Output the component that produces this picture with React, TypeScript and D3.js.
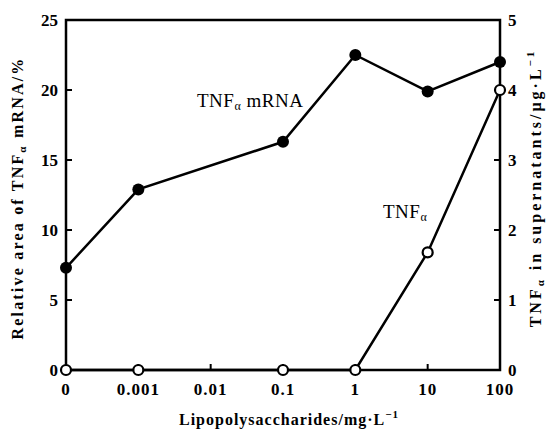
import { useEffect, useRef } from 'react'
import * as d3 from 'd3'

const doses = ['0', '0.001', '0.01', '0.1', '1', '10', '100']
const mrnaDoses = ['0', '0.001', '0.1', '1', '10', '100']
const mrnaValues = [7.3, 12.9, 16.3, 22.5, 19.9, 22.0]
const proteinDoses = ['0', '0.001', '0.1', '1', '10', '100']
const proteinValues = [0, 0, 0, 0, 1.68, 4.0]
const leftTicks = [0, 5, 10, 15, 20, 25]
const rightTicks = [0, 1, 2, 3, 4, 5]
const doseLabels = ['0', '0.001', '0.01', '0.1', '1', '10', '100']

export default function App() {
  const ref = useRef<SVGSVGElement>(null)

  useEffect(() => {
    const width = 552, height = 436
    const margin = { top: 20, right: 52, bottom: 66, left: 66 }
    const innerW = width - margin.left - margin.right
    const innerH = height - margin.top - margin.bottom
    const font = '"Liberation Serif", "DejaVu Serif", serif'

    const svg = d3.select(ref.current)
    svg.selectAll('*').remove()

    const g = svg.append('g').attr('transform', `translate(${margin.left},${margin.top})`)

    const x = d3.scalePoint().domain(doses).range([0, innerW])
    const yL = d3.scaleLinear().domain([0, 25]).range([innerH, 0])
    const yR = d3.scaleLinear().domain([0, 5]).range([innerH, 0])

    // frame
    g.append('rect')
      .attr('width', innerW).attr('height', innerH)
      .attr('fill', 'none').attr('stroke', '#000').attr('stroke-width', 2.5)

    // left ticks (inward)
    g.selectAll('.lt').data(leftTicks.filter(d => d > 0 && d < 25)).enter()
      .append('line')
      .attr('x1', 0).attr('x2', 6)
      .attr('y1', d => yL(d)).attr('y2', d => yL(d))
      .attr('stroke', '#000').attr('stroke-width', 2)
    g.selectAll('.ltl').data(leftTicks).enter()
      .append('text')
      .attr('x', -8).attr('y', d => yL(d)).attr('dy', '0.35em')
      .attr('text-anchor', 'end')
      .attr('font-family', font).attr('font-weight', 'bold').attr('font-size', 17)
      .text(d => d)

    // right ticks (inward)
    g.selectAll('.rt').data(rightTicks.filter(d => d > 0 && d < 5)).enter()
      .append('line')
      .attr('x1', innerW - 6).attr('x2', innerW)
      .attr('y1', d => yR(d)).attr('y2', d => yR(d))
      .attr('stroke', '#000').attr('stroke-width', 2)
    g.selectAll('.rtl').data(rightTicks).enter()
      .append('text')
      .attr('x', innerW + 8).attr('y', d => yR(d)).attr('dy', '0.35em')
      .attr('text-anchor', 'start')
      .attr('font-family', font).attr('font-weight', 'bold').attr('font-size', 17)
      .text(d => d)

    // bottom ticks (inward)
    g.selectAll('.bt').data(doses.slice(1, -1)).enter()
      .append('line')
      .attr('x1', d => x(d)!).attr('x2', d => x(d)!)
      .attr('y1', innerH).attr('y2', innerH - 6)
      .attr('stroke', '#000').attr('stroke-width', 2)
    g.selectAll('.btl').data(doses).enter()
      .append('text')
      .attr('x', d => x(d)!).attr('y', innerH + 25)
      .attr('text-anchor', 'middle')
      .attr('font-family', font).attr('font-weight', 'bold').attr('font-size', 17)
      .attr('letter-spacing', 1)
      .text((d, i) => doseLabels[i])

    // mRNA series
    const mrna = mrnaDoses.map((d, i) => ({ x: d, y: mrnaValues[i] }))
    g.append('path')
      .datum(mrna)
      .attr('fill', 'none').attr('stroke', '#000').attr('stroke-width', 2.5)
      .attr('d', d3.line<{ x: string, y: number }>().x(d => x(d.x)!).y(d => yL(d.y)))

    // protein series
    const prot = proteinDoses.map((d, i) => ({ x: d, y: proteinValues[i] }))
    g.append('path')
      .datum(prot)
      .attr('fill', 'none').attr('stroke', '#000').attr('stroke-width', 2.5)
      .attr('d', d3.line<{ x: string, y: number }>().x(d => x(d.x)!).y(d => yR(d.y)))

    g.selectAll('.pm').data(prot).enter()
      .append('circle')
      .attr('cx', d => x(d.x)!).attr('cy', d => yR(d.y)).attr('r', 5)
      .attr('fill', '#fff').attr('stroke', '#000').attr('stroke-width', 2.2)

    g.selectAll('.mm').data(mrna).enter()
      .append('circle')
      .attr('cx', d => x(d.x)!).attr('cy', d => yL(d.y)).attr('r', 6)
      .attr('fill', '#000')

    // series labels
    const lab1 = g.append('text')
      .attr('x', 131).attr('y', 87)
      .attr('font-family', font).attr('font-size', 19).attr('letter-spacing', 0.5)
    lab1.append('tspan').text('TNF')
    lab1.append('tspan').attr('font-size', 12).attr('dy', 3).text('α')
    lab1.append('tspan').attr('dy', -3).text(' mRNA')

    const lab2 = g.append('text')
      .attr('x', 317).attr('y', 198)
      .attr('font-family', font).attr('font-size', 19).attr('letter-spacing', 0.5)
    lab2.append('tspan').text('TNF')
    lab2.append('tspan').attr('font-size', 12).attr('dy', 3).text('α')

    // axis titles
    const xt = svg.append('text')
      .attr('x', margin.left + innerW / 2 + 6).attr('y', 425)
      .attr('text-anchor', 'middle')
      .attr('font-family', font).attr('font-weight', 'bold').attr('font-size', 16)
      .attr('letter-spacing', 1)
    xt.append('tspan').text('Lipopolysaccharides/mg·L')
    xt.append('tspan').attr('font-size', 11).attr('dy', -7).text('−1')

    const yt = svg.append('text')
      .attr('transform', 'translate(23,198) rotate(-90)')
      .attr('text-anchor', 'middle')
      .attr('font-family', font).attr('font-weight', 'bold').attr('font-size', 16)
      .attr('letter-spacing', 2.2)
    yt.append('tspan').text('Relative area of TNF')
    yt.append('tspan').attr('font-size', 11).attr('dy', 3).text('α')
    yt.append('tspan').attr('dy', -3).text(' mRNA/%')

    const rt = svg.append('text')
      .attr('transform', 'translate(541,188) rotate(-90)')
      .attr('text-anchor', 'middle')
      .attr('font-family', font).attr('font-weight', 'bold').attr('font-size', 16)
      .attr('letter-spacing', 3)
    rt.append('tspan').text('TNF')
    rt.append('tspan').attr('font-size', 11).attr('dy', 3).text('α')
    rt.append('tspan').attr('dy', -3).text(' in supernatants/μg·L')
    rt.append('tspan').attr('font-size', 11).attr('dy', -7).text('−1')
  }, [])

  return (
    <svg ref={ref} width={552} height={436}
      style={{ position: 'absolute', left: 0, top: 0, background: '#fff' }} />
  )
}
